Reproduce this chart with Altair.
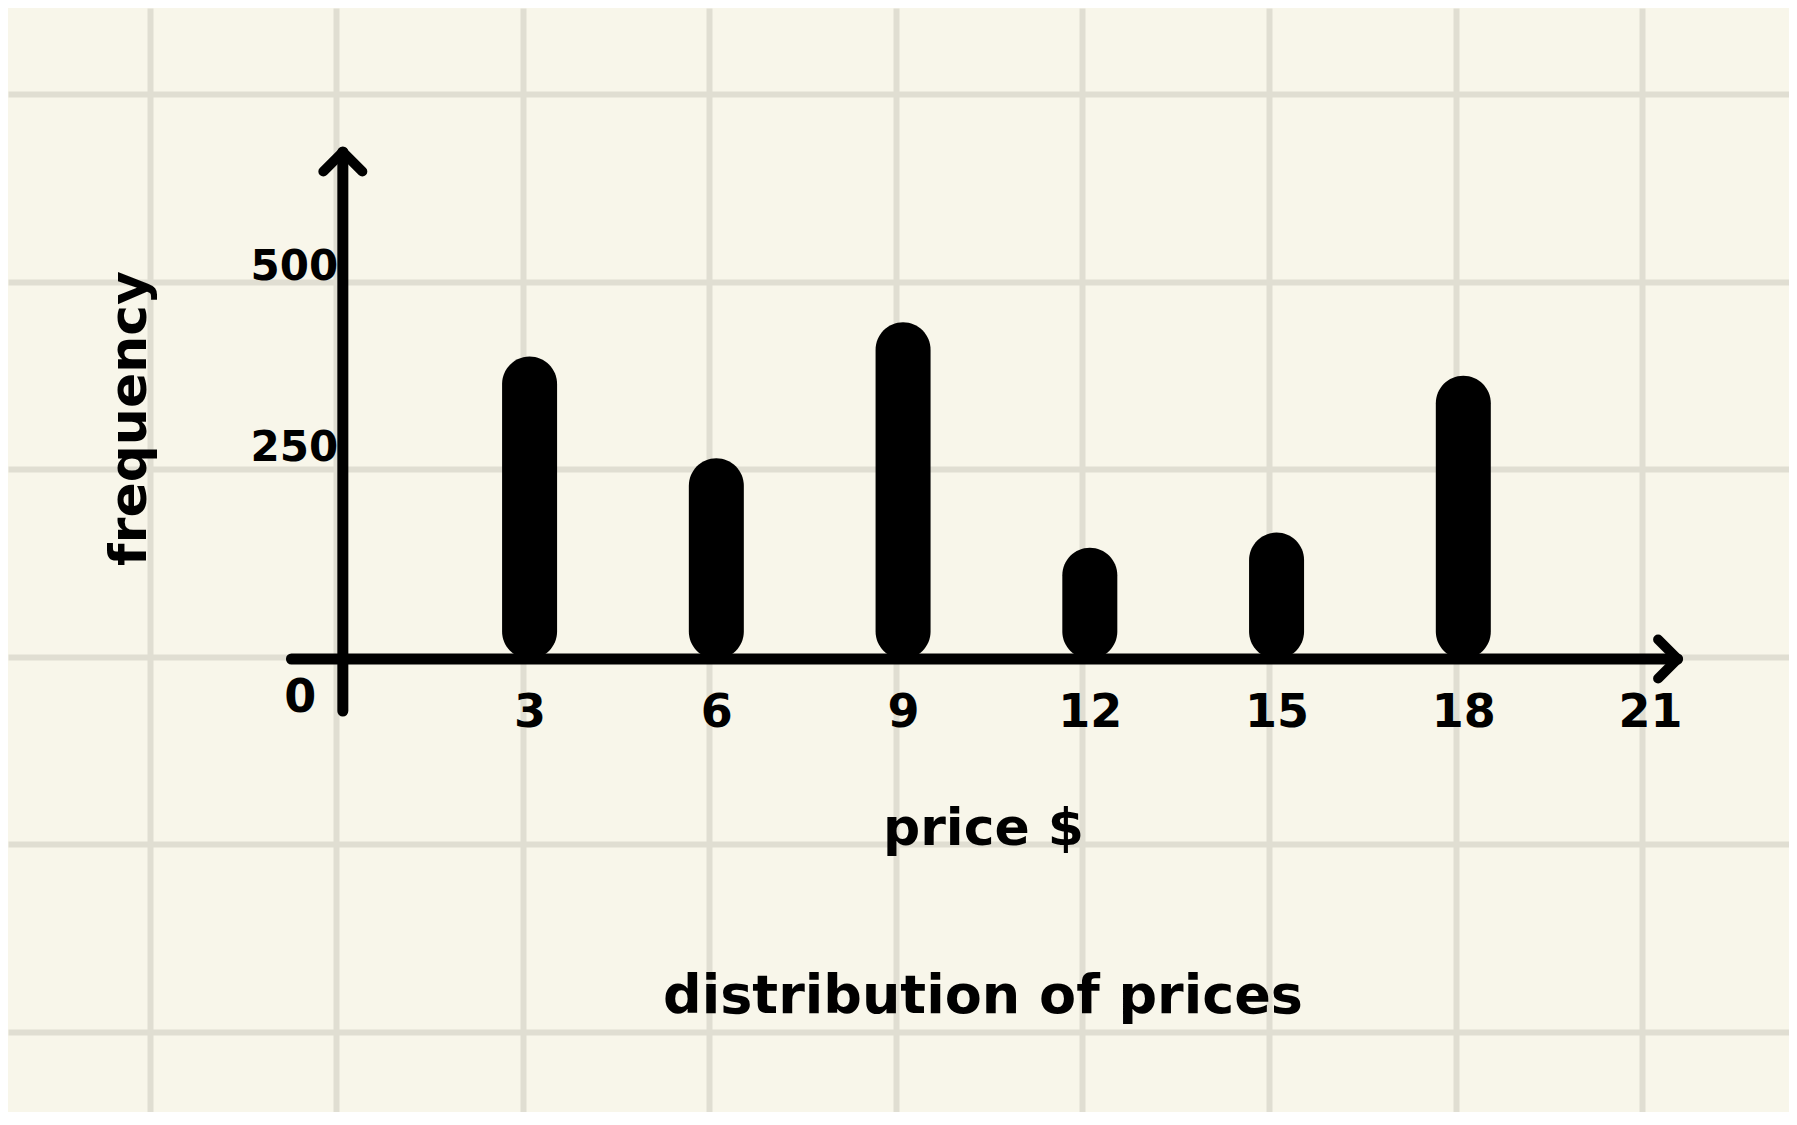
import altair as alt
import pandas as pd

# ---- data ----
prices = [3, 6, 9, 12, 15, 18]
frequency = [378, 251, 421, 139, 158, 354]
x_ticks = [0, 3, 6, 9, 12, 15, 18, 21]
y_ticks = [250, 500]

TITLE = "distribution of prices"
X_TITLE = "price $"
Y_TITLE = "frequency"

# ---- style / layout (page pixels) ----
BG = "#F8F6EA"
GRID = "#E0DED2"
FONT = "DejaVu Sans"
W, H, M = 1781, 1104, 8
PX0, PXU = 339.7, 62.6      # page x of price 0, px per price unit
PY0, PYU = 659.0, 0.8       # page y of frequency 0, px per frequency unit
GRID_STEP = 187.6


def xu(p):
    return (p - PX0) / PXU


def yu(p):
    return (PY0 - p) / PYU


x_dom = [xu(M), xu(M + W)]
y_dom = [yu(M + H), yu(M)]
grid_x = [xu(145.5 + GRID_STEP * k) for k in range(9)]
grid_y = [yu(94 + GRID_STEP * k) for k in range(6)]

xs = alt.Scale(domain=x_dom, nice=False, zero=False)
ys = alt.Scale(domain=y_dom, nice=False, zero=False)

df = pd.DataFrame({"price": prices, "frequency": frequency})

grid_x_axis = alt.Axis(orient="top", values=grid_x, grid=True, labels=False, ticks=False,
                       domain=False, title=None, gridColor=GRID, gridWidth=6, gridOpacity=1)
grid_y_axis = alt.Axis(orient="right", values=grid_y, grid=True, labels=False, ticks=False,
                       domain=False, title=None, gridColor=GRID, gridWidth=6, gridOpacity=1)

bars = alt.Chart(df).mark_bar(size=55, cornerRadius=27.5, color="black").encode(
    x=alt.X("price:Q", scale=xs, axis=grid_x_axis),
    y=alt.Y("frequency:Q", scale=ys, axis=grid_y_axis),
    y2=alt.datum(0),
)

axes_df = pd.DataFrame({
    "x": [xu(288), 0.0],
    "x2": [xu(1682), 0.0],
    "y": [0.0, yu(711)],
    "y2": [0.0, yu(152)],
})

x_axis = alt.Axis(
    orient="bottom", offset=-(M + H - PY0), values=x_ticks, format="d",
    grid=False, ticks=False, domain=False,
    labelFont=FONT, labelFontSize=46, labelFontWeight="bold", labelColor="black",
    labelBaseline="middle", labelAlign="center",
    labelPadding={"condition": {"test": "datum.value == 0", "value": 38}, "value": 53},
    labelOffset={"condition": {"test": "datum.value == 0", "value": -43}, "value": 0},
    title=X_TITLE, titleFont=FONT, titleFontSize=52, titleFontWeight="bold", titleColor="black",
    titleX=983 - M, titleY=828 - PY0, titleAlign="center", titleBaseline="middle",
)
y_axis = alt.Axis(
    orient="left", offset=-(PX0 - M), values=y_ticks, format="d",
    grid=False, ticks=False, domain=False,
    labelFont=FONT, labelFontSize=42, labelFontWeight="bold", labelColor="black",
    labelBaseline="middle", labelAlign="right", labelPadding=2,
    labelOffset={"condition": {"test": "datum.value == 500", "value": 7}, "value": -12},
    title=Y_TITLE, titleFont=FONT, titleFontSize=52, titleFontWeight="bold", titleColor="black",
    titleX=129 - PX0, titleY=418 - M, titleAlign="center", titleBaseline="middle", titleAngle=270,
)

rules = alt.Chart(axes_df).mark_rule(strokeWidth=11, strokeCap="round", color="black").encode(
    x=alt.X("x:Q", scale=xs, axis=x_axis),
    x2="x2:Q",
    y=alt.Y("y:Q", scale=ys, axis=y_axis),
    y2="y2:Q",
)

tip_x = pd.DataFrame({"x": [xu(1682)], "y": [0.0]})
tip_y = pd.DataFrame({"x": [0.0], "y": [yu(152)]})

arrow_style = dict(filled=False, size=1521, strokeWidth=10, color="black", opacity=1,
                   strokeCap="round", strokeJoin="round")

arrow_x = alt.Chart(tip_x).mark_point(shape="M-1,-1L0,0L-1,1", **arrow_style).encode(
    x=alt.X("x:Q", scale=xs, axis=None),
    y=alt.Y("y:Q", scale=ys, axis=None),
)
arrow_y = alt.Chart(tip_y).mark_point(shape="M-1,1L0,0L1,1", **arrow_style).encode(
    x=alt.X("x:Q", scale=xs, axis=None),
    y=alt.Y("y:Q", scale=ys, axis=None),
)

chart = alt.layer(bars, rules, arrow_x, arrow_y).properties(
    width=W, height=H, padding=0,
    autosize=alt.AutoSizeParams(type="none"),
    background=BG,
    title=alt.TitleParams(
        TITLE, orient="bottom", frame="group", anchor="middle",
        offset=-(M + H - 997), dx=983 - (M + W / 2), baseline="middle",
        fontSize=54, font=FONT, fontWeight="bold", color="black",
    ),
).resolve_axis(x="independent", y="independent").configure_view(strokeWidth=0)

chart.save("out.html", embed_options={"renderer": "svg", "actions": False})
